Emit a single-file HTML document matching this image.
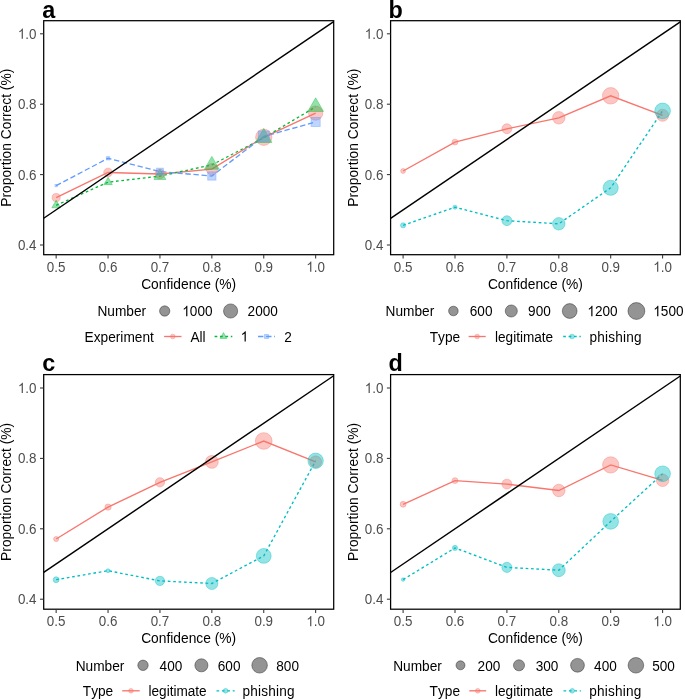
<!DOCTYPE html>
<html><head><meta charset="utf-8"><title>Calibration plots</title>
<style>
html,body{margin:0;padding:0;background:#fff;}
body{width:685px;height:700px;overflow:hidden;}
svg{display:block;will-change:transform;filter:blur(0.3px);}
text{font-family:"Liberation Sans",sans-serif;font-kerning:none;white-space:pre;}
.tl{font-size:13.4px;fill:#4D4D4D;}
.at{font-size:13.8px;fill:#000;}
.lg{font-size:13.6px;fill:#000;}
.lgt{font-size:13.7px;fill:#000;}
.tag{font-size:23.4px;font-weight:bold;fill:#000;}
</style></head>
<body>
<svg width="685" height="700" viewBox="0 0 685 700">
<rect width="685" height="700" fill="#fff"/>
<g id="panel-a">
<polyline points="56.15,197.6 108.05,172.5 159.95,174 211.85,169.2 263.75,137.3 315.65,113.1" fill="none" stroke="#F8766D" stroke-width="1.35"/>
<polyline points="56.15,205.3 108.05,182.2 159.95,176.1 211.85,164.9 263.75,137.8 315.65,106.9" fill="none" stroke="#00BA38" stroke-width="1.35" stroke-dasharray="2.70 2.70"/>
<polyline points="56.15,185.6 108.05,158.3 159.95,171.6 211.85,176 263.75,136.4 315.65,122" fill="none" stroke="#619CFF" stroke-width="1.35" stroke-dasharray="5.40 2.70"/>
<circle cx="56.15" cy="197.6" r="4.05" fill="#F8766D" fill-opacity="0.42" stroke="#F8766D" stroke-opacity="0.42" stroke-width="0.9"/>
<circle cx="108.05" cy="172.5" r="4.35" fill="#F8766D" fill-opacity="0.42" stroke="#F8766D" stroke-opacity="0.42" stroke-width="0.9"/>
<circle cx="159.95" cy="174" r="4.85" fill="#F8766D" fill-opacity="0.42" stroke="#F8766D" stroke-opacity="0.42" stroke-width="0.9"/>
<circle cx="211.85" cy="169.2" r="5.65" fill="#F8766D" fill-opacity="0.42" stroke="#F8766D" stroke-opacity="0.42" stroke-width="0.9"/>
<circle cx="263.75" cy="137.3" r="8.15" fill="#F8766D" fill-opacity="0.42" stroke="#F8766D" stroke-opacity="0.42" stroke-width="0.9"/>
<circle cx="315.65" cy="113.1" r="7.15" fill="#F8766D" fill-opacity="0.42" stroke="#F8766D" stroke-opacity="0.42" stroke-width="0.9"/>
<polygon points="56.15,200.3 60.48,207.8 51.82,207.8" fill="#00BA38" fill-opacity="0.42" stroke="#00BA38" stroke-opacity="0.42" stroke-width="0.9" stroke-linejoin="round"/>
<polygon points="108.05,177.3 112.29,184.65 103.81,184.65" fill="#00BA38" fill-opacity="0.42" stroke="#00BA38" stroke-opacity="0.42" stroke-width="0.9" stroke-linejoin="round"/>
<polygon points="159.95,169.2 165.93,179.55 153.97,179.55" fill="#00BA38" fill-opacity="0.42" stroke="#00BA38" stroke-opacity="0.42" stroke-width="0.9" stroke-linejoin="round"/>
<polygon points="211.85,156.4 219.21,169.15 204.49,169.15" fill="#00BA38" fill-opacity="0.42" stroke="#00BA38" stroke-opacity="0.42" stroke-width="0.9" stroke-linejoin="round"/>
<polygon points="263.75,128.4 271.89,142.5 255.61,142.5" fill="#00BA38" fill-opacity="0.42" stroke="#00BA38" stroke-opacity="0.42" stroke-width="0.9" stroke-linejoin="round"/>
<polygon points="315.65,97.8 323.53,111.45 307.77,111.45" fill="#00BA38" fill-opacity="0.42" stroke="#00BA38" stroke-opacity="0.42" stroke-width="0.9" stroke-linejoin="round"/>
<rect x="55" y="184.45" width="2.3" height="2.3" fill="#619CFF" fill-opacity="0.42" stroke="#619CFF" stroke-opacity="0.42" stroke-width="0.9"/>
<rect x="106.4" y="156.65" width="3.3" height="3.3" fill="#619CFF" fill-opacity="0.42" stroke="#619CFF" stroke-opacity="0.42" stroke-width="0.9"/>
<rect x="156.5" y="168.15" width="6.9" height="6.9" fill="#619CFF" fill-opacity="0.42" stroke="#619CFF" stroke-opacity="0.42" stroke-width="0.9"/>
<rect x="207.7" y="171.85" width="8.3" height="8.3" fill="#619CFF" fill-opacity="0.42" stroke="#619CFF" stroke-opacity="0.42" stroke-width="0.9"/>
<rect x="258.3" y="130.95" width="10.9" height="10.9" fill="#619CFF" fill-opacity="0.42" stroke="#619CFF" stroke-opacity="0.42" stroke-width="0.9"/>
<rect x="311.1" y="117.45" width="9.1" height="9.1" fill="#619CFF" fill-opacity="0.42" stroke="#619CFF" stroke-opacity="0.42" stroke-width="0.9"/>
<line x1="43.7" y1="218.24" x2="333.7" y2="21.56" stroke="#000" stroke-width="1.45"/>
<rect x="43.7" y="20.7" width="290" height="234" fill="none" stroke="#000" stroke-width="1.25"/>
<line x1="40" y1="245" x2="43.7" y2="245" stroke="#333333" stroke-width="1.05"/>
<g transform="translate(36.5 249.9) scale(1 1.08)"><text x="-18.63" y="0" class="tl">0.4</text></g>
<line x1="40" y1="174.6" x2="43.7" y2="174.6" stroke="#333333" stroke-width="1.05"/>
<g transform="translate(36.5 179.5) scale(1 1.08)"><text x="-18.63" y="0" class="tl">0.6</text></g>
<line x1="40" y1="104.2" x2="43.7" y2="104.2" stroke="#333333" stroke-width="1.05"/>
<g transform="translate(36.5 109.1) scale(1 1.08)"><text x="-18.63" y="0" class="tl">0.8</text></g>
<line x1="40" y1="33.8" x2="43.7" y2="33.8" stroke="#333333" stroke-width="1.05"/>
<g transform="translate(36.5 38.7) scale(1 1.08)"><text x="-18.63" y="0" class="tl"> .0</text><path transform="translate(-18.628 0) scale(0.006543 -0.006543)" d="M763 0L583 0L583 1119C540 1079 483 1039 413 999C343 959 280 929 223 908L223 1078C323 1124 410 1179 485 1244C560 1308 613 1371 644 1430L763 1430Z" fill="#4D4D4D"/></g>
<line x1="56.15" y1="254.7" x2="56.15" y2="258.4" stroke="#333333" stroke-width="1.05"/>
<g transform="translate(56.15 271.7) scale(1 1.08)"><text x="-9.31" y="0" class="tl">0.5</text></g>
<line x1="108.05" y1="254.7" x2="108.05" y2="258.4" stroke="#333333" stroke-width="1.05"/>
<g transform="translate(108.05 271.7) scale(1 1.08)"><text x="-9.31" y="0" class="tl">0.6</text></g>
<line x1="159.95" y1="254.7" x2="159.95" y2="258.4" stroke="#333333" stroke-width="1.05"/>
<g transform="translate(159.95 271.7) scale(1 1.08)"><text x="-9.31" y="0" class="tl">0.7</text></g>
<line x1="211.85" y1="254.7" x2="211.85" y2="258.4" stroke="#333333" stroke-width="1.05"/>
<g transform="translate(211.85 271.7) scale(1 1.08)"><text x="-9.31" y="0" class="tl">0.8</text></g>
<line x1="263.75" y1="254.7" x2="263.75" y2="258.4" stroke="#333333" stroke-width="1.05"/>
<g transform="translate(263.75 271.7) scale(1 1.08)"><text x="-9.31" y="0" class="tl">0.9</text></g>
<line x1="315.65" y1="254.7" x2="315.65" y2="258.4" stroke="#333333" stroke-width="1.05"/>
<g transform="translate(315.65 271.7) scale(1 1.08)"><text x="-9.31" y="0" class="tl"> .0</text><path transform="translate(-9.314 0) scale(0.006543 -0.006543)" d="M763 0L583 0L583 1119C540 1079 483 1039 413 999C343 959 280 929 223 908L223 1078C323 1124 410 1179 485 1244C560 1308 613 1371 644 1430L763 1430Z" fill="#4D4D4D"/></g>
<g transform="translate(188.7 288.5) scale(1 1.03)"><text x="-47.56" y="0" class="at">Confidence (%)</text></g>
<text x="10.9" y="137.7" text-anchor="middle" class="at" transform="rotate(-90 10.9 137.7)">Proportion Correct (%)</text>
<g transform="translate(42.3 17.6) scale(1 1.035)"><text x="0" y="0" class="tag">a</text></g>
</g>
<g id="panel-b">
<polyline points="403.1,171 455,142.1 506.9,128.8 558.8,117.8 610.7,95.8 662.6,115.3" fill="none" stroke="#F8766D" stroke-width="1.35"/>
<polyline points="403.1,225.3 455,207.2 506.9,220.7 558.8,223.8 610.7,187.8 662.6,110.9" fill="none" stroke="#00BFC4" stroke-width="1.35" stroke-dasharray="2.70 2.70"/>
<circle cx="403.1" cy="171" r="2.45" fill="#F8766D" fill-opacity="0.42" stroke="#F8766D" stroke-opacity="0.42" stroke-width="0.9"/>
<circle cx="455" cy="142.1" r="2.95" fill="#F8766D" fill-opacity="0.42" stroke="#F8766D" stroke-opacity="0.42" stroke-width="0.9"/>
<circle cx="506.9" cy="128.8" r="4.95" fill="#F8766D" fill-opacity="0.42" stroke="#F8766D" stroke-opacity="0.42" stroke-width="0.9"/>
<circle cx="558.8" cy="117.8" r="6.25" fill="#F8766D" fill-opacity="0.42" stroke="#F8766D" stroke-opacity="0.42" stroke-width="0.9"/>
<circle cx="610.7" cy="95.8" r="8.25" fill="#F8766D" fill-opacity="0.42" stroke="#F8766D" stroke-opacity="0.42" stroke-width="0.9"/>
<circle cx="662.6" cy="115.3" r="6.05" fill="#F8766D" fill-opacity="0.42" stroke="#F8766D" stroke-opacity="0.42" stroke-width="0.9"/>
<circle cx="403.1" cy="225.3" r="2.55" fill="#00BFC4" fill-opacity="0.42" stroke="#00BFC4" stroke-opacity="0.42" stroke-width="0.9"/>
<circle cx="455" cy="207.2" r="2.05" fill="#00BFC4" fill-opacity="0.42" stroke="#00BFC4" stroke-opacity="0.42" stroke-width="0.9"/>
<circle cx="506.9" cy="220.7" r="4.95" fill="#00BFC4" fill-opacity="0.42" stroke="#00BFC4" stroke-opacity="0.42" stroke-width="0.9"/>
<circle cx="558.8" cy="223.8" r="6.25" fill="#00BFC4" fill-opacity="0.42" stroke="#00BFC4" stroke-opacity="0.42" stroke-width="0.9"/>
<circle cx="610.7" cy="187.8" r="7.55" fill="#00BFC4" fill-opacity="0.42" stroke="#00BFC4" stroke-opacity="0.42" stroke-width="0.9"/>
<circle cx="662.6" cy="110.9" r="7.85" fill="#00BFC4" fill-opacity="0.42" stroke="#00BFC4" stroke-opacity="0.42" stroke-width="0.9"/>
<line x1="390.6" y1="218.28" x2="680.3" y2="21.8" stroke="#000" stroke-width="1.45"/>
<rect x="390.6" y="20.7" width="289.7" height="234" fill="none" stroke="#000" stroke-width="1.25"/>
<line x1="386.9" y1="245" x2="390.6" y2="245" stroke="#333333" stroke-width="1.05"/>
<g transform="translate(383.4 249.9) scale(1 1.08)"><text x="-18.63" y="0" class="tl">0.4</text></g>
<line x1="386.9" y1="174.6" x2="390.6" y2="174.6" stroke="#333333" stroke-width="1.05"/>
<g transform="translate(383.4 179.5) scale(1 1.08)"><text x="-18.63" y="0" class="tl">0.6</text></g>
<line x1="386.9" y1="104.2" x2="390.6" y2="104.2" stroke="#333333" stroke-width="1.05"/>
<g transform="translate(383.4 109.1) scale(1 1.08)"><text x="-18.63" y="0" class="tl">0.8</text></g>
<line x1="386.9" y1="33.8" x2="390.6" y2="33.8" stroke="#333333" stroke-width="1.05"/>
<g transform="translate(383.4 38.7) scale(1 1.08)"><text x="-18.63" y="0" class="tl"> .0</text><path transform="translate(-18.628 0) scale(0.006543 -0.006543)" d="M763 0L583 0L583 1119C540 1079 483 1039 413 999C343 959 280 929 223 908L223 1078C323 1124 410 1179 485 1244C560 1308 613 1371 644 1430L763 1430Z" fill="#4D4D4D"/></g>
<line x1="403.1" y1="254.7" x2="403.1" y2="258.4" stroke="#333333" stroke-width="1.05"/>
<g transform="translate(403.1 271.7) scale(1 1.08)"><text x="-9.31" y="0" class="tl">0.5</text></g>
<line x1="455" y1="254.7" x2="455" y2="258.4" stroke="#333333" stroke-width="1.05"/>
<g transform="translate(455 271.7) scale(1 1.08)"><text x="-9.31" y="0" class="tl">0.6</text></g>
<line x1="506.9" y1="254.7" x2="506.9" y2="258.4" stroke="#333333" stroke-width="1.05"/>
<g transform="translate(506.9 271.7) scale(1 1.08)"><text x="-9.31" y="0" class="tl">0.7</text></g>
<line x1="558.8" y1="254.7" x2="558.8" y2="258.4" stroke="#333333" stroke-width="1.05"/>
<g transform="translate(558.8 271.7) scale(1 1.08)"><text x="-9.31" y="0" class="tl">0.8</text></g>
<line x1="610.7" y1="254.7" x2="610.7" y2="258.4" stroke="#333333" stroke-width="1.05"/>
<g transform="translate(610.7 271.7) scale(1 1.08)"><text x="-9.31" y="0" class="tl">0.9</text></g>
<line x1="662.6" y1="254.7" x2="662.6" y2="258.4" stroke="#333333" stroke-width="1.05"/>
<g transform="translate(662.6 271.7) scale(1 1.08)"><text x="-9.31" y="0" class="tl"> .0</text><path transform="translate(-9.314 0) scale(0.006543 -0.006543)" d="M763 0L583 0L583 1119C540 1079 483 1039 413 999C343 959 280 929 223 908L223 1078C323 1124 410 1179 485 1244C560 1308 613 1371 644 1430L763 1430Z" fill="#4D4D4D"/></g>
<g transform="translate(535.45 288.5) scale(1 1.03)"><text x="-47.56" y="0" class="at">Confidence (%)</text></g>
<text x="357.8" y="137.7" text-anchor="middle" class="at" transform="rotate(-90 357.8 137.7)">Proportion Correct (%)</text>
<g transform="translate(388.6 17.6) scale(1 1.035)"><text x="0" y="0" class="tag">b</text></g>
</g>
<g id="panel-c">
<polyline points="56.15,539 108.05,507.1 159.95,482.3 211.85,461.9 263.75,441 315.65,461.8" fill="none" stroke="#F8766D" stroke-width="1.35"/>
<polyline points="56.15,579.7 108.05,570.7 159.95,580.9 211.85,583.5 263.75,555.9 315.65,460.8" fill="none" stroke="#00BFC4" stroke-width="1.35" stroke-dasharray="2.70 2.70"/>
<circle cx="56.15" cy="539" r="2.55" fill="#F8766D" fill-opacity="0.42" stroke="#F8766D" stroke-opacity="0.42" stroke-width="0.9"/>
<circle cx="108.05" cy="507.1" r="3.15" fill="#F8766D" fill-opacity="0.42" stroke="#F8766D" stroke-opacity="0.42" stroke-width="0.9"/>
<circle cx="159.95" cy="482.3" r="4.65" fill="#F8766D" fill-opacity="0.42" stroke="#F8766D" stroke-opacity="0.42" stroke-width="0.9"/>
<circle cx="211.85" cy="461.9" r="6.45" fill="#F8766D" fill-opacity="0.42" stroke="#F8766D" stroke-opacity="0.42" stroke-width="0.9"/>
<circle cx="263.75" cy="441" r="8.35" fill="#F8766D" fill-opacity="0.42" stroke="#F8766D" stroke-opacity="0.42" stroke-width="0.9"/>
<circle cx="315.65" cy="461.8" r="5.95" fill="#F8766D" fill-opacity="0.42" stroke="#F8766D" stroke-opacity="0.42" stroke-width="0.9"/>
<circle cx="56.15" cy="579.7" r="2.95" fill="#00BFC4" fill-opacity="0.42" stroke="#00BFC4" stroke-opacity="0.42" stroke-width="0.9"/>
<circle cx="108.05" cy="570.7" r="1.95" fill="#00BFC4" fill-opacity="0.42" stroke="#00BFC4" stroke-opacity="0.42" stroke-width="0.9"/>
<circle cx="159.95" cy="580.9" r="4.65" fill="#00BFC4" fill-opacity="0.42" stroke="#00BFC4" stroke-opacity="0.42" stroke-width="0.9"/>
<circle cx="211.85" cy="583.5" r="6.05" fill="#00BFC4" fill-opacity="0.42" stroke="#00BFC4" stroke-opacity="0.42" stroke-width="0.9"/>
<circle cx="263.75" cy="555.9" r="7.45" fill="#00BFC4" fill-opacity="0.42" stroke="#00BFC4" stroke-opacity="0.42" stroke-width="0.9"/>
<circle cx="315.65" cy="460.8" r="7.7" fill="#00BFC4" fill-opacity="0.42" stroke="#00BFC4" stroke-opacity="0.42" stroke-width="0.9"/>
<line x1="43.7" y1="572.44" x2="333.7" y2="375.76" stroke="#000" stroke-width="1.45"/>
<rect x="43.7" y="374.6" width="290" height="234.6" fill="none" stroke="#000" stroke-width="1.25"/>
<line x1="40" y1="599.2" x2="43.7" y2="599.2" stroke="#333333" stroke-width="1.05"/>
<g transform="translate(36.5 604.1) scale(1 1.08)"><text x="-18.63" y="0" class="tl">0.4</text></g>
<line x1="40" y1="528.8" x2="43.7" y2="528.8" stroke="#333333" stroke-width="1.05"/>
<g transform="translate(36.5 533.7) scale(1 1.08)"><text x="-18.63" y="0" class="tl">0.6</text></g>
<line x1="40" y1="458.4" x2="43.7" y2="458.4" stroke="#333333" stroke-width="1.05"/>
<g transform="translate(36.5 463.3) scale(1 1.08)"><text x="-18.63" y="0" class="tl">0.8</text></g>
<line x1="40" y1="388" x2="43.7" y2="388" stroke="#333333" stroke-width="1.05"/>
<g transform="translate(36.5 392.9) scale(1 1.08)"><text x="-18.63" y="0" class="tl"> .0</text><path transform="translate(-18.628 0) scale(0.006543 -0.006543)" d="M763 0L583 0L583 1119C540 1079 483 1039 413 999C343 959 280 929 223 908L223 1078C323 1124 410 1179 485 1244C560 1308 613 1371 644 1430L763 1430Z" fill="#4D4D4D"/></g>
<line x1="56.15" y1="609.2" x2="56.15" y2="612.9" stroke="#333333" stroke-width="1.05"/>
<g transform="translate(56.15 626.2) scale(1 1.08)"><text x="-9.31" y="0" class="tl">0.5</text></g>
<line x1="108.05" y1="609.2" x2="108.05" y2="612.9" stroke="#333333" stroke-width="1.05"/>
<g transform="translate(108.05 626.2) scale(1 1.08)"><text x="-9.31" y="0" class="tl">0.6</text></g>
<line x1="159.95" y1="609.2" x2="159.95" y2="612.9" stroke="#333333" stroke-width="1.05"/>
<g transform="translate(159.95 626.2) scale(1 1.08)"><text x="-9.31" y="0" class="tl">0.7</text></g>
<line x1="211.85" y1="609.2" x2="211.85" y2="612.9" stroke="#333333" stroke-width="1.05"/>
<g transform="translate(211.85 626.2) scale(1 1.08)"><text x="-9.31" y="0" class="tl">0.8</text></g>
<line x1="263.75" y1="609.2" x2="263.75" y2="612.9" stroke="#333333" stroke-width="1.05"/>
<g transform="translate(263.75 626.2) scale(1 1.08)"><text x="-9.31" y="0" class="tl">0.9</text></g>
<line x1="315.65" y1="609.2" x2="315.65" y2="612.9" stroke="#333333" stroke-width="1.05"/>
<g transform="translate(315.65 626.2) scale(1 1.08)"><text x="-9.31" y="0" class="tl"> .0</text><path transform="translate(-9.314 0) scale(0.006543 -0.006543)" d="M763 0L583 0L583 1119C540 1079 483 1039 413 999C343 959 280 929 223 908L223 1078C323 1124 410 1179 485 1244C560 1308 613 1371 644 1430L763 1430Z" fill="#4D4D4D"/></g>
<g transform="translate(188.7 643) scale(1 1.03)"><text x="-47.56" y="0" class="at">Confidence (%)</text></g>
<text x="10.9" y="491.9" text-anchor="middle" class="at" transform="rotate(-90 10.9 491.9)">Proportion Correct (%)</text>
<g transform="translate(42.3 370.8) scale(1 1.035)"><text x="0" y="0" class="tag">c</text></g>
</g>
<g id="panel-d">
<polyline points="403.1,504.3 455,480.6 506.9,484.1 558.8,490.5 610.7,464.9 662.6,480.3" fill="none" stroke="#F8766D" stroke-width="1.35"/>
<polyline points="403.1,579.6 455,547.9 506.9,567.4 558.8,570.2 610.7,521.4 662.6,473.8" fill="none" stroke="#00BFC4" stroke-width="1.35" stroke-dasharray="2.70 2.70"/>
<circle cx="403.1" cy="504.3" r="2.95" fill="#F8766D" fill-opacity="0.42" stroke="#F8766D" stroke-opacity="0.42" stroke-width="0.9"/>
<circle cx="455" cy="480.6" r="2.95" fill="#F8766D" fill-opacity="0.42" stroke="#F8766D" stroke-opacity="0.42" stroke-width="0.9"/>
<circle cx="506.9" cy="484.1" r="4.95" fill="#F8766D" fill-opacity="0.42" stroke="#F8766D" stroke-opacity="0.42" stroke-width="0.9"/>
<circle cx="558.8" cy="490.5" r="6.25" fill="#F8766D" fill-opacity="0.42" stroke="#F8766D" stroke-opacity="0.42" stroke-width="0.9"/>
<circle cx="610.7" cy="464.9" r="8.15" fill="#F8766D" fill-opacity="0.42" stroke="#F8766D" stroke-opacity="0.42" stroke-width="0.9"/>
<circle cx="662.6" cy="480.3" r="6.25" fill="#F8766D" fill-opacity="0.42" stroke="#F8766D" stroke-opacity="0.42" stroke-width="0.9"/>
<circle cx="403.1" cy="579.6" r="1.75" fill="#00BFC4" fill-opacity="0.42" stroke="#00BFC4" stroke-opacity="0.42" stroke-width="0.9"/>
<circle cx="455" cy="547.9" r="2.55" fill="#00BFC4" fill-opacity="0.42" stroke="#00BFC4" stroke-opacity="0.42" stroke-width="0.9"/>
<circle cx="506.9" cy="567.4" r="5.05" fill="#00BFC4" fill-opacity="0.42" stroke="#00BFC4" stroke-opacity="0.42" stroke-width="0.9"/>
<circle cx="558.8" cy="570.2" r="6.45" fill="#00BFC4" fill-opacity="0.42" stroke="#00BFC4" stroke-opacity="0.42" stroke-width="0.9"/>
<circle cx="610.7" cy="521.4" r="7.85" fill="#00BFC4" fill-opacity="0.42" stroke="#00BFC4" stroke-opacity="0.42" stroke-width="0.9"/>
<circle cx="662.6" cy="473.8" r="7.85" fill="#00BFC4" fill-opacity="0.42" stroke="#00BFC4" stroke-opacity="0.42" stroke-width="0.9"/>
<line x1="390.6" y1="572.48" x2="680.3" y2="376" stroke="#000" stroke-width="1.45"/>
<rect x="390.6" y="374.6" width="289.7" height="234.6" fill="none" stroke="#000" stroke-width="1.25"/>
<line x1="386.9" y1="599.2" x2="390.6" y2="599.2" stroke="#333333" stroke-width="1.05"/>
<g transform="translate(383.4 604.1) scale(1 1.08)"><text x="-18.63" y="0" class="tl">0.4</text></g>
<line x1="386.9" y1="528.8" x2="390.6" y2="528.8" stroke="#333333" stroke-width="1.05"/>
<g transform="translate(383.4 533.7) scale(1 1.08)"><text x="-18.63" y="0" class="tl">0.6</text></g>
<line x1="386.9" y1="458.4" x2="390.6" y2="458.4" stroke="#333333" stroke-width="1.05"/>
<g transform="translate(383.4 463.3) scale(1 1.08)"><text x="-18.63" y="0" class="tl">0.8</text></g>
<line x1="386.9" y1="388" x2="390.6" y2="388" stroke="#333333" stroke-width="1.05"/>
<g transform="translate(383.4 392.9) scale(1 1.08)"><text x="-18.63" y="0" class="tl"> .0</text><path transform="translate(-18.628 0) scale(0.006543 -0.006543)" d="M763 0L583 0L583 1119C540 1079 483 1039 413 999C343 959 280 929 223 908L223 1078C323 1124 410 1179 485 1244C560 1308 613 1371 644 1430L763 1430Z" fill="#4D4D4D"/></g>
<line x1="403.1" y1="609.2" x2="403.1" y2="612.9" stroke="#333333" stroke-width="1.05"/>
<g transform="translate(403.1 626.2) scale(1 1.08)"><text x="-9.31" y="0" class="tl">0.5</text></g>
<line x1="455" y1="609.2" x2="455" y2="612.9" stroke="#333333" stroke-width="1.05"/>
<g transform="translate(455 626.2) scale(1 1.08)"><text x="-9.31" y="0" class="tl">0.6</text></g>
<line x1="506.9" y1="609.2" x2="506.9" y2="612.9" stroke="#333333" stroke-width="1.05"/>
<g transform="translate(506.9 626.2) scale(1 1.08)"><text x="-9.31" y="0" class="tl">0.7</text></g>
<line x1="558.8" y1="609.2" x2="558.8" y2="612.9" stroke="#333333" stroke-width="1.05"/>
<g transform="translate(558.8 626.2) scale(1 1.08)"><text x="-9.31" y="0" class="tl">0.8</text></g>
<line x1="610.7" y1="609.2" x2="610.7" y2="612.9" stroke="#333333" stroke-width="1.05"/>
<g transform="translate(610.7 626.2) scale(1 1.08)"><text x="-9.31" y="0" class="tl">0.9</text></g>
<line x1="662.6" y1="609.2" x2="662.6" y2="612.9" stroke="#333333" stroke-width="1.05"/>
<g transform="translate(662.6 626.2) scale(1 1.08)"><text x="-9.31" y="0" class="tl"> .0</text><path transform="translate(-9.314 0) scale(0.006543 -0.006543)" d="M763 0L583 0L583 1119C540 1079 483 1039 413 999C343 959 280 929 223 908L223 1078C323 1124 410 1179 485 1244C560 1308 613 1371 644 1430L763 1430Z" fill="#4D4D4D"/></g>
<g transform="translate(535.45 643) scale(1 1.03)"><text x="-47.56" y="0" class="at">Confidence (%)</text></g>
<text x="357.8" y="491.9" text-anchor="middle" class="at" transform="rotate(-90 357.8 491.9)">Proportion Correct (%)</text>
<g transform="translate(388.6 370.8) scale(1 1.035)"><text x="0" y="0" class="tag">d</text></g>
</g>
<g transform="translate(97.4 316.2) scale(1 1.07)"><text x="0" y="0" class="lgt">Number</text></g>
<circle cx="164.7" cy="311" r="5.15" fill="#000" fill-opacity="0.42" stroke="#000" stroke-opacity="0.42" stroke-width="0.9"/>
<g transform="translate(182.3 316.2) scale(1 1.09)"><text x="0" y="0" class="lg"> 000</text><path transform="translate(0.000 0) scale(0.006641 -0.006641)" d="M763 0L583 0L583 1119C540 1079 483 1039 413 999C343 959 280 929 223 908L223 1078C323 1124 410 1179 485 1244C560 1308 613 1371 644 1430L763 1430Z" fill="#000"/></g>
<circle cx="230.6" cy="311" r="7.1" fill="#000" fill-opacity="0.42" stroke="#000" stroke-opacity="0.42" stroke-width="0.9"/>
<g transform="translate(247.6 316.2) scale(1 1.09)"><text x="0" y="0" class="lg">2000</text></g>
<g transform="translate(84.6 341.6) scale(1 1.07)"><text x="0" y="0" class="lgt">Experiment</text></g>
<line x1="164.1" y1="336.5" x2="181.5" y2="336.5" stroke="#F8766D" stroke-width="1.35"/>
<circle cx="172.8" cy="336.5" r="2.35" fill="#F8766D" fill-opacity="0.42" stroke="#F8766D" stroke-opacity="0.42" stroke-width="0.9"/>
<g transform="translate(190.4 341.6) scale(1 1.09)"><text x="0" y="0" class="lg">All</text></g>
<line x1="214.6" y1="336.5" x2="232.3" y2="336.5" stroke="#00BA38" stroke-width="1.35" stroke-dasharray="2.70 2.70"/>
<polygon points="223.45,332.6 226.83,338.45 220.07,338.45" fill="#00BA38" fill-opacity="0.42" stroke="#00BA38" stroke-opacity="0.42" stroke-width="0.9" stroke-linejoin="round"/>
<g transform="translate(240.7 341.6) scale(1 1.09)"><text x="0" y="0" class="lg"> </text><path transform="translate(0.000 0) scale(0.006641 -0.006641)" d="M763 0L583 0L583 1119C540 1079 483 1039 413 999C343 959 280 929 223 908L223 1078C323 1124 410 1179 485 1244C560 1308 613 1371 644 1430L763 1430Z" fill="#000"/></g>
<line x1="258" y1="336.5" x2="275" y2="336.5" stroke="#619CFF" stroke-width="1.35" stroke-dasharray="5.40 2.70"/>
<rect x="264.5" y="334.5" width="4" height="4" fill="#619CFF" fill-opacity="0.42" stroke="#619CFF" stroke-opacity="0.42" stroke-width="0.9"/>
<g transform="translate(284.2 341.6) scale(1 1.09)"><text x="0" y="0" class="lg">2</text></g>
<g transform="translate(385.6 316.2) scale(1 1.07)"><text x="0" y="0" class="lgt">Number</text></g>
<circle cx="453.4" cy="311" r="4.8" fill="#000" fill-opacity="0.42" stroke="#000" stroke-opacity="0.42" stroke-width="0.9"/>
<g transform="translate(469.8 316.2) scale(1 1.09)"><text x="0" y="0" class="lg">600</text></g>
<circle cx="511.3" cy="311" r="6.05" fill="#000" fill-opacity="0.42" stroke="#000" stroke-opacity="0.42" stroke-width="0.9"/>
<g transform="translate(528.1 316.2) scale(1 1.09)"><text x="0" y="0" class="lg">900</text></g>
<circle cx="569.7" cy="311" r="7.4" fill="#000" fill-opacity="0.42" stroke="#000" stroke-opacity="0.42" stroke-width="0.9"/>
<g transform="translate(587.4 316.2) scale(1 1.09)"><text x="0" y="0" class="lg"> 200</text><path transform="translate(0.000 0) scale(0.006641 -0.006641)" d="M763 0L583 0L583 1119C540 1079 483 1039 413 999C343 959 280 929 223 908L223 1078C323 1124 410 1179 485 1244C560 1308 613 1371 644 1430L763 1430Z" fill="#000"/></g>
<circle cx="636.4" cy="311" r="8.45" fill="#000" fill-opacity="0.42" stroke="#000" stroke-opacity="0.42" stroke-width="0.9"/>
<g transform="translate(653.3 316.2) scale(1 1.09)"><text x="0" y="0" class="lg"> 500</text><path transform="translate(0.000 0) scale(0.006641 -0.006641)" d="M763 0L583 0L583 1119C540 1079 483 1039 413 999C343 959 280 929 223 908L223 1078C323 1124 410 1179 485 1244C560 1308 613 1371 644 1430L763 1430Z" fill="#000"/></g>
<g transform="translate(429.7 341.6) scale(1 1.07)"><text x="0" y="0" class="lgt">Type</text></g>
<line x1="468.6" y1="336.5" x2="485.7" y2="336.5" stroke="#F8766D" stroke-width="1.35"/>
<circle cx="477.15" cy="336.5" r="2.35" fill="#F8766D" fill-opacity="0.42" stroke="#F8766D" stroke-opacity="0.42" stroke-width="0.9"/>
<g transform="translate(495 341.6) scale(1 1.09)"><text x="0" y="0" class="lg">legitimate</text></g>
<line x1="563.2" y1="336.5" x2="580.8" y2="336.5" stroke="#00BFC4" stroke-width="1.35" stroke-dasharray="2.70 2.70"/>
<circle cx="572" cy="336.5" r="2.35" fill="#00BFC4" fill-opacity="0.42" stroke="#00BFC4" stroke-opacity="0.42" stroke-width="0.9"/>
<g transform="translate(589.5 341.6) scale(1 1.09)"><text x="0" y="0" class="lg" letter-spacing="0.19">phishing</text></g>
<g transform="translate(75.7 670.5) scale(1 1.07)"><text x="0" y="0" class="lgt">Number</text></g>
<circle cx="143" cy="665.3" r="5.2" fill="#000" fill-opacity="0.42" stroke="#000" stroke-opacity="0.42" stroke-width="0.9"/>
<g transform="translate(159.6 670.5) scale(1 1.09)"><text x="0" y="0" class="lg">400</text></g>
<circle cx="201.4" cy="665.3" r="6.55" fill="#000" fill-opacity="0.42" stroke="#000" stroke-opacity="0.42" stroke-width="0.9"/>
<g transform="translate(217.8 670.5) scale(1 1.09)"><text x="0" y="0" class="lg">600</text></g>
<circle cx="259.6" cy="665.3" r="7.8" fill="#000" fill-opacity="0.42" stroke="#000" stroke-opacity="0.42" stroke-width="0.9"/>
<g transform="translate(276.3 670.5) scale(1 1.09)"><text x="0" y="0" class="lg">800</text></g>
<g transform="translate(82.8 695.9) scale(1 1.07)"><text x="0" y="0" class="lgt">Type</text></g>
<line x1="122.2" y1="690.8" x2="139.7" y2="690.8" stroke="#F8766D" stroke-width="1.35"/>
<circle cx="130.95" cy="690.8" r="2.35" fill="#F8766D" fill-opacity="0.42" stroke="#F8766D" stroke-opacity="0.42" stroke-width="0.9"/>
<g transform="translate(148.5 695.9) scale(1 1.09)"><text x="0" y="0" class="lg">legitimate</text></g>
<line x1="216.5" y1="690.8" x2="234.7" y2="690.8" stroke="#00BFC4" stroke-width="1.35" stroke-dasharray="2.70 2.70"/>
<circle cx="225.6" cy="690.8" r="2.35" fill="#00BFC4" fill-opacity="0.42" stroke="#00BFC4" stroke-opacity="0.42" stroke-width="0.9"/>
<g transform="translate(242.6 695.9) scale(1 1.09)"><text x="0" y="0" class="lg" letter-spacing="0.19">phishing</text></g>
<g transform="translate(393.2 670.5) scale(1 1.07)"><text x="0" y="0" class="lgt">Number</text></g>
<circle cx="460.5" cy="665.3" r="4.5" fill="#000" fill-opacity="0.42" stroke="#000" stroke-opacity="0.42" stroke-width="0.9"/>
<g transform="translate(477.6 670.5) scale(1 1.09)"><text x="0" y="0" class="lg">200</text></g>
<circle cx="519" cy="665.3" r="5.55" fill="#000" fill-opacity="0.42" stroke="#000" stroke-opacity="0.42" stroke-width="0.9"/>
<g transform="translate(535.7 670.5) scale(1 1.09)"><text x="0" y="0" class="lg">300</text></g>
<circle cx="577.5" cy="665.3" r="6.9" fill="#000" fill-opacity="0.42" stroke="#000" stroke-opacity="0.42" stroke-width="0.9"/>
<g transform="translate(594.1 670.5) scale(1 1.09)"><text x="0" y="0" class="lg">400</text></g>
<circle cx="635.9" cy="665.3" r="7.8" fill="#000" fill-opacity="0.42" stroke="#000" stroke-opacity="0.42" stroke-width="0.9"/>
<g transform="translate(652.2 670.5) scale(1 1.09)"><text x="0" y="0" class="lg">500</text></g>
<g transform="translate(429.6 695.9) scale(1 1.07)"><text x="0" y="0" class="lgt">Type</text></g>
<line x1="469.3" y1="690.8" x2="486.2" y2="690.8" stroke="#F8766D" stroke-width="1.35"/>
<circle cx="477.75" cy="690.8" r="2.35" fill="#F8766D" fill-opacity="0.42" stroke="#F8766D" stroke-opacity="0.42" stroke-width="0.9"/>
<g transform="translate(495 695.9) scale(1 1.09)"><text x="0" y="0" class="lg">legitimate</text></g>
<line x1="563.5" y1="690.8" x2="580.9" y2="690.8" stroke="#00BFC4" stroke-width="1.35" stroke-dasharray="2.70 2.70"/>
<circle cx="572.2" cy="690.8" r="2.35" fill="#00BFC4" fill-opacity="0.42" stroke="#00BFC4" stroke-opacity="0.42" stroke-width="0.9"/>
<g transform="translate(589.3 695.9) scale(1 1.09)"><text x="0" y="0" class="lg" letter-spacing="0.19">phishing</text></g>
</svg>
</body></html>
